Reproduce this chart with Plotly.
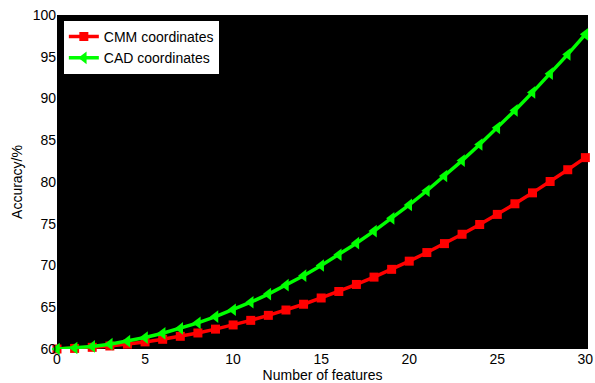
import plotly.graph_objects as go

features = list(range(31))
cmm = [60.00, 60.07, 60.20, 60.36, 60.58, 60.85, 61.16, 61.52, 61.92, 62.38,
       62.88, 63.43, 64.03, 64.67, 65.36, 66.11, 66.89, 67.73, 68.61, 69.54,
       70.52, 71.55, 72.62, 73.74, 74.91, 76.12, 77.39, 78.70, 80.06, 81.47, 82.92]
cad = [60.00, 60.12, 60.31, 60.58, 60.94, 61.37, 61.88, 62.47, 63.13, 63.88,
       64.70, 65.60, 66.58, 67.64, 68.78, 70.00, 71.29, 72.67, 74.12, 75.65,
       77.26, 78.95, 80.72, 82.56, 84.49, 86.49, 88.57, 90.73, 92.97, 95.28, 97.68]
x_ticks = [0, 5, 10, 15, 20, 25, 30]
y_ticks = [60, 65, 70, 75, 80, 85, 90, 95, 100]

font = dict(family="Liberation Sans, Arial", size=14, color="black")

fig = go.Figure()
fig.add_trace(go.Scatter(x=features, y=cmm, mode="lines+markers", name="CMM coordinates",
                         line=dict(color="#ff0000", width=3.5),
                         marker=dict(symbol="square", size=9, color="#ff0000"),
                         cliponaxis=False))
fig.add_trace(go.Scatter(x=features, y=cad, mode="lines+markers", name="CAD coordinates",
                         line=dict(color="#00ff00", width=3.5),
                         marker=dict(symbol="triangle-left", size=11, color="#00ff00"),
                         cliponaxis=False))

fig.update_layout(
    width=595, height=383,
    margin=dict(l=57, r=2, t=15, b=32),
    paper_bgcolor="white", plot_bgcolor="black",
    font=font,
    showlegend=True,
    legend=dict(x=0.011, y=0.985, xanchor="left", yanchor="top",
                bgcolor="white", bordercolor="black", borderwidth=1,
                font=dict(family="Liberation Sans, Arial", size=14, color="black"),
                tracegroupgap=0, itemwidth=30),
    xaxis=dict(range=[0, 30.15], tickvals=x_ticks, showgrid=False, zeroline=False,
               ticks="", showline=False, tickfont=font, ticklabeloverflow="allow",
               title=dict(text="Number of features", font=font, standoff=4)),
    yaxis=dict(range=[60, 100], tickvals=y_ticks, showgrid=False, zeroline=False,
               ticks="", showline=False, tickfont=font,
               title=dict(text="Accuracy/%", font=font, standoff=6)),
    yaxis2=dict(range=[60, 100], tickvals=y_ticks, overlaying="y", side="right",
                anchor="x", ticks="inside", ticklen=4, tickcolor="white",
                showticklabels=False, showgrid=False, zeroline=False, showline=False),
)

fig.write_html("out.html")
